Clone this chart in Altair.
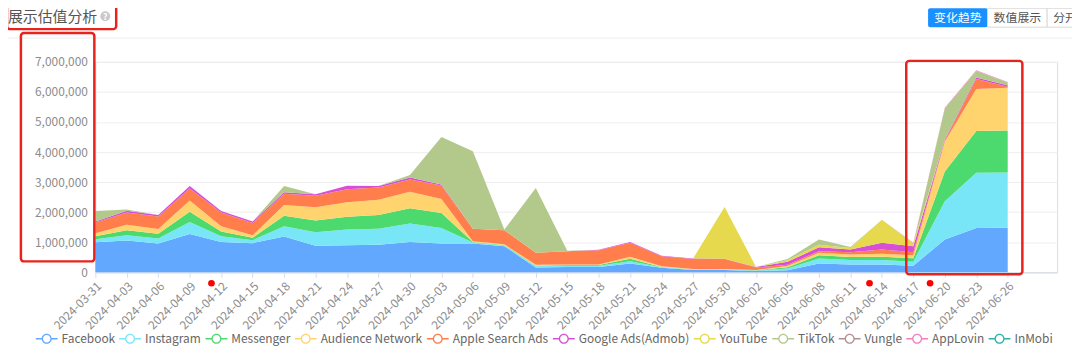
import altair as alt
import pandas as pd

# ---------------- data ----------------
dates = ["2024-03-31", "2024-04-03", "2024-04-06", "2024-04-09", "2024-04-12", "2024-04-15",
         "2024-04-18", "2024-04-21", "2024-04-24", "2024-04-27", "2024-04-30", "2024-05-03",
         "2024-05-06", "2024-05-09", "2024-05-12", "2024-05-15", "2024-05-18", "2024-05-21",
         "2024-05-24", "2024-05-27", "2024-05-30", "2024-06-02", "2024-06-05", "2024-06-08",
         "2024-06-11", "2024-06-14", "2024-06-17", "2024-06-20", "2024-06-23", "2024-06-26"]

series = ["Facebook", "Instagram", "Messenger", "Audience Network", "Apple Search Ads",
          "Google Ads(Admob)", "YouTube", "TikTok", "Vungle", "AppLovin", "InMobi"]
colors = ["#62A8FF", "#78E6F7", "#4CDA6F", "#FFD46F", "#FF7E4B",
          "#D74FD6", "#E6D94E", "#B3C98B", "#B38E91", "#F27EC2", "#2BB2A9"]

# values in millions
facebook = [1.00, 1.06, 0.96, 1.27, 1.01, 0.97, 1.19, 0.88, 0.90, 0.92, 1.01, 0.96, 0.96, 0.87, 0.16,
            0.18, 0.18, 0.29, 0.15, 0.08, 0.08, 0.04, 0.07, 0.29, 0.26, 0.26, 0.22, 1.09, 1.47, 1.48]
instagram = [0.10, 0.17, 0.16, 0.40, 0.19, 0.10, 0.34, 0.45, 0.52, 0.53, 0.61, 0.51, 0.03, 0.02, 0.04,
             0.04, 0.04, 0.08, 0.02, 0.01, 0.01, 0.02, 0.06, 0.17, 0.15, 0.15, 0.13, 1.27, 1.84, 1.84]
messenger = [0.10, 0.17, 0.16, 0.34, 0.16, 0.08, 0.35, 0.39, 0.43, 0.46, 0.51, 0.50, 0.02, 0.02, 0.02,
             0.02, 0.02, 0.08, 0.01, 0.01, 0.01, 0.01, 0.04, 0.11, 0.10, 0.11, 0.12, 0.99, 1.39, 1.40]
audience_network = [0.10, 0.18, 0.16, 0.38, 0.17, 0.08, 0.36, 0.44, 0.48, 0.50, 0.55, 0.47, 0.02, 0.02, 0.03,
                    0.02, 0.02, 0.07, 0.02, 0.01, 0.01, 0.01, 0.04, 0.08, 0.08, 0.10, 0.10, 0.99, 1.40, 1.42]
apple_search_ads = [0.36, 0.41, 0.42, 0.40, 0.46, 0.41, 0.37, 0.39, 0.43, 0.41, 0.41, 0.45, 0.42, 0.47, 0.40,
                    0.44, 0.47, 0.46, 0.33, 0.33, 0.33, 0.08, 0.04, 0.05, 0.08, 0.14, 0.10, 0.04, 0.33, 0.03]
google_ads = [0.03, 0.06, 0.05, 0.08, 0.05, 0.05, 0.05, 0.05, 0.12, 0.05, 0.06, 0.03, 0.00, 0.00, 0.00,
              0.00, 0.02, 0.03, 0.02, 0.02, 0.01, 0.02, 0.10, 0.13, 0.09, 0.22, 0.20, 0.04, 0.05, 0.05]
youtube = [0.00, 0.00, 0.00, 0.00, 0.00, 0.00, 0.00, 0.00, 0.00, 0.00, 0.00, 0.00, 0.00, 0.00, 0.00,
           0.00, 0.00, 0.00, 0.00, 0.00, 1.72, 0.00, 0.05, 0.09, 0.05, 0.77, 0.10, 0.00, 0.00, 0.00]
tiktok = [0.35, 0.04, 0.00, 0.00, 0.00, 0.00, 0.21, 0.00, 0.00, 0.00, 0.09, 1.58, 2.58, 0.02, 2.15,
          0.02, 0.00, 0.00, 0.00, 0.00, 0.00, 0.00, 0.04, 0.17, 0.03, 0.00, 0.00, 1.03, 0.22, 0.10]
vungle = [0.0] * 30
applovin = [0.0] * 26 + [0.01, 0.02, 0.02, 0.01]
inmobi = [0.0] * 30

values = [facebook, instagram, messenger, audience_network, apple_search_ads,
          google_ads, youtube, tiktok, vungle, applovin, inmobi]

y_ticks = [0, 1000000, 2000000, 3000000, 4000000, 5000000, 6000000, 7000000]

rows = []
for k, (name, vals) in enumerate(zip(series, values)):
    for i, v in enumerate(vals):
        rows.append({"idx": i, "date": dates[i], "series": name, "value": v * 1e6, "ord": k})
df = pd.DataFrame(rows)

FONT = "Noto Sans CJK SC"
label_expr = "[" + ",".join("'%s'" % d for d in dates) + "][datum.value]"
# "-O-" legend glyph drawn as filled shapes: two short bars and a ring
SYMBOL = ("M-1,-0.065L-0.44,-0.065L-0.44,0.065L-1,0.065Z"
          "M0.44,-0.065L1,-0.065L1,0.065L0.44,0.065Z"
          "M0.46,0A0.46,0.46,0,1,1,-0.46,0A0.46,0.46,0,1,1,0.46,0Z"
          "M0.34,0A0.34,0.34,0,1,0,-0.34,0A0.34,0.34,0,1,0,0.34,0Z")

W, H = 969, 212

area = alt.Chart(df).mark_area(opacity=1).encode(
    x=alt.X("idx:Q",
            scale=alt.Scale(domain=[0, 30.57], nice=False, zero=False),
            axis=alt.Axis(values=list(range(len(dates))), labelExpr=label_expr, labelAngle=-45,
                          labelColor="#8c8c8c", labelFontSize=12, labelFont=FONT,
                          domainColor="#d5dbe6", tickColor="#d5dbe6", tickSize=5,
                          labelOverlap=False, labelFlush=False, labelPadding=3,
                          grid=False, title=None)),
    y=alt.Y("value:Q", stack="zero",
            scale=alt.Scale(domain=[0, 7000000], nice=False),
            axis=alt.Axis(values=y_ticks, format=",d", labelColor="#8c8c8c", labelFontSize=12,
                          labelFont=FONT, labelPadding=8, ticks=False, domain=False,
                          labelOverlap=False, gridColor="#eeeeee", title=None)),
    color=alt.Color("series:N", sort=series, scale=alt.Scale(domain=series, range=colors),
                    legend=alt.Legend(orient="none", legendX=-60, legendY=268,
                                      direction="horizontal", title=None,
                                      symbolType=SYMBOL, symbolSize=484,
                                      symbolStrokeWidth=0, symbolOpacity=1,
                                      labelFontSize=12, labelColor="#666666", labelFont=FONT,
                                      labelOffset=4, columnPadding=4)),
    order=alt.Order("ord:Q", sort="ascending"),
)

one = pd.DataFrame({"a": [0]})

# header decorations
header_line = alt.Chart(one).mark_rule(color="#eeeeee", strokeWidth=1).encode(
    x=alt.value(-88), x2=alt.value(984), y=alt.value(-24))
title = alt.Chart(one).mark_text(text="展示估值分析", align="left", baseline="middle",
                                 fontSize=15, color="#555555", font=FONT).encode(
    x=alt.value(-88), y=alt.value(-45))
info_dot = alt.Chart(one).mark_point(filled=True, shape="circle", size=100, color="#c9c9c9",
                                     opacity=1).encode(x=alt.value(10), y=alt.value(-46))
info_q = alt.Chart(one).mark_text(text="?", fontSize=9, fontWeight="bold", color="#ffffff",
                                  font=FONT, baseline="middle").encode(
    x=alt.value(10), y=alt.value(-45.5))

btn1 = alt.Chart(one).mark_rect(color="#1890ff", cornerRadius=2).encode(
    x=alt.value(839), x2=alt.value(899), y=alt.value(-54), y2=alt.value(-35))
btn2 = alt.Chart(one).mark_rect(fill="#ffffff", stroke="#d9d9d9", strokeWidth=1).encode(
    x=alt.value(899), x2=alt.value(959), y=alt.value(-54), y2=alt.value(-35))
btn3 = alt.Chart(one).mark_rect(fill="#ffffff", stroke="#d9d9d9", strokeWidth=1).encode(
    x=alt.value(959), x2=alt.value(1019), y=alt.value(-54), y2=alt.value(-35))
btn1_t = alt.Chart(one).mark_text(text="变化趋势", fontSize=12, color="#ffffff", font=FONT,
                                  baseline="middle").encode(x=alt.value(869), y=alt.value(-44.5))
btn2_t = alt.Chart(one).mark_text(text="数值展示", fontSize=12, color="#555555", font=FONT,
                                  baseline="middle").encode(x=alt.value(929), y=alt.value(-44.5))
btn3_t = alt.Chart(one).mark_text(text="分开展示", fontSize=12, color="#555555", font=FONT,
                                  baseline="middle").encode(x=alt.value(989), y=alt.value(-44.5))

# red annotation boxes
RED = "#e8231b"
box_title = alt.Chart(one).mark_rect(filled=False, stroke=RED, strokeWidth=2.5, cornerRadius=3).encode(
    x=alt.value(-89), x2=alt.value(21), y=alt.value(-58), y2=alt.value(-33))
box_axis = alt.Chart(one).mark_rect(filled=False, stroke=RED, strokeWidth=2.5, cornerRadius=3).encode(
    x=alt.value(-75), x2=alt.value(-1), y=alt.value(-29), y2=alt.value(201))
box_right = alt.Chart(one).mark_rect(filled=False, stroke=RED, strokeWidth=2.5, cornerRadius=3).encode(
    x=alt.value(817), x2=alt.value(934), y=alt.value(-1), y2=alt.value(214))
dots = alt.Chart(pd.DataFrame({"px": [117, 780, 841]})).mark_point(
    filled=True, shape="circle", size=45, color="#ff0000", opacity=1).encode(
    x=alt.X("px:Q", scale=None), y=alt.value(223))

chart = alt.layer(
    area, header_line, title, info_dot, info_q, btn1, btn2, btn3,
    btn1_t, btn2_t, btn3_t, box_title, box_axis, box_right, dots
).properties(
    width=W, height=H,
    padding={"left": 88, "top": 53, "right": 15, "bottom": 75},
    autosize=alt.AutoSizeParams(type="none"),
).configure_view(stroke=None).configure(font=FONT)

chart.save("out.html", embed_options={"renderer": "svg", "actions": False})
